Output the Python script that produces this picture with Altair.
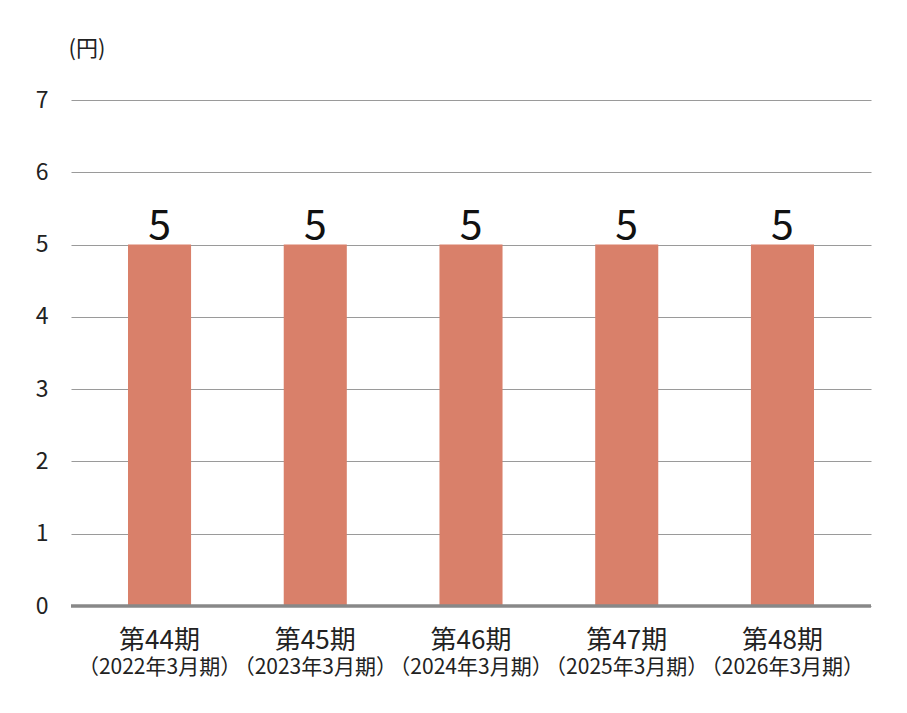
import altair as alt
import pandas as pd

periods = ["第44期", "第45期", "第46期", "第47期", "第48期"]
fiscal = ["（2022年3月期）", "（2023年3月期）", "（2024年3月期）", "（2025年3月期）", "（2026年3月期）"]
dividends = [5, 5, 5, 5, 5]
y_ticks = [0, 1, 2, 3, 4, 5, 6, 7]

df = pd.DataFrame({"period": periods, "fiscal": fiscal, "value": dividends})

FONT = "Noto Sans CJK JP"
BAR = "#D9806A"

x = alt.X("period:N", sort=periods,
          scale=alt.Scale(paddingInner=0.595, paddingOuter=0.366),
          axis=alt.Axis(title=None, domain=False, ticks=False, labelAngle=0,
                        labelFontSize=26, labelFont=FONT, labelColor="#222222",
                        labelBaseline="middle", labelPadding=34, grid=False))
y = alt.Y("value:Q", scale=alt.Scale(domain=[0, 7], nice=False),
          axis=alt.Axis(values=y_ticks, format="d", title="(円)", titleAngle=0,
                        titleAlign="left", titleX=-3, titleY=-52, titleBaseline="middle",
                        titleFont=FONT, titleFontSize=22, titleFontWeight="normal",
                        titleColor="#222222",
                        domain=False, ticks=False, labelFont=FONT, labelFontSize=23,
                        labelColor="#222222", labelPadding=23,
                        grid=True, gridColor="#9a9a9a", gridWidth=1.2))

base = alt.Chart(df)

bars = base.mark_bar(color=BAR).encode(x=x, y=y)

values = base.mark_text(font=FONT, fontSize=41, color="#111111", baseline="alphabetic",
                        dy=-6).encode(x=alt.X("period:N", sort=periods), y="value:Q",
                                      text="value:Q")

sub = base.mark_text(font=FONT, fontSize=21, color="#222222", baseline="middle").encode(
    x=alt.X("period:N", sort=periods), y=alt.value(568), text="fiscal:N")

zero = alt.Chart(pd.DataFrame({"z": [0]})).mark_rule(color="#888888", strokeWidth=3.5).encode(
    y="z:Q")

chart = alt.layer(bars, zero, values, sub).properties(
    width=800, height=506,
    autosize=alt.AutoSizeParams(type="none"),
    padding={"left": 63, "top": 92, "right": 28, "bottom": 99},
).configure_view(stroke=None)

chart.save("out.html", embed_options={"renderer": "svg", "actions": False})
